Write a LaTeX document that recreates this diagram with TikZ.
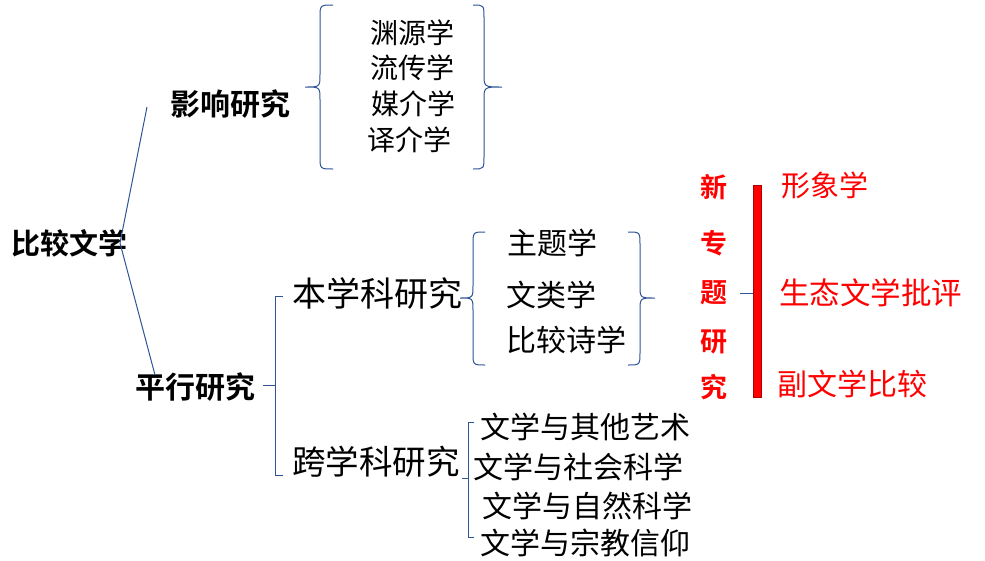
\documentclass[tikz,border=0pt]{standalone}
\usepackage{fontspec}
\setmainfont{Noto Sans CJK SC}[BoldFont={Noto Sans CJK SC Bold}]
\newcommand\fsz[1]{\fontsize{#1}{#1}\selectfont}
\definecolor{lineblue}{RGB}{47,85,151}
\definecolor{darkred}{RGB}{170,0,0}
\tikzset{
  txt/.style={anchor=west, inner sep=0pt, outer sep=0pt, text=black},
  boldtxt/.style={txt, font=\fsz{29}\bfseries},
  regtxt/.style={txt, font=\fsz{#1}},
  redtxt/.style={txt, text=red, font=\fsz{#1}},
  redv/.style={anchor=center, inner sep=0pt, text=red, font=\fsz{27}\bfseries},
  conn/.style={draw=lineblue, line width=1pt},
}
\begin{document}
\begin{tikzpicture}[x=1pt,y=-1pt]
\useasboundingbox (0,0) rectangle (985,560);
\fill[white] (0,0) rectangle (985,560);

% main nodes
\node[boldtxt] (bjwx) at (12,243) {比较文学};
\node[boldtxt, font=\fsz{30}\bfseries] (yxyj) at (170,104) {影响研究};
\node[boldtxt, font=\fsz{30}\bfseries] (pxyj) at (135,387) {平行研究};

\coordinate (root) at (120,243);
\coordinate (yxin) at (147,107);
\coordinate (pxin) at (155,375);
\draw[conn] (root) -- (yxin);
\draw[conn] (root) -- (pxin);

% influence brace and items
\draw[conn] (333,5) .. controls (320,5) .. (320,18) -- (320,74) .. controls (320,87) .. (305,87) .. controls (320,87) .. (320,100) -- (320,156) .. controls (320,169) .. (333,169);
\draw[conn] (473,5) .. controls (484,5) .. (484,18) -- (484,74) .. controls (484,87) .. (502,87) .. controls (484,87) .. (484,100) -- (484,156) .. controls (484,169) .. (473,169);
\node[regtxt=28] (yy) at (370,33) {渊源学};
\node[regtxt=28] (lc) at (370,68) {流传学};
\node[regtxt=28] (mj) at (371,104) {媒介学};
\node[regtxt=28] (yj) at (367,140) {译介学};

% parallel bracket
\coordinate (pxtick) at (263,385);
\coordinate (pxbar) at (275,385);
\draw[conn] (pxtick) -- (pxbar);
\draw[conn] (283,296) -- (275,296) -- (275,475) -- (283,475);

\node[regtxt=34] (bxk) at (292,293) {本学科研究};
\node[regtxt=33.5] (kxk) at (292,462) {跨学科研究};

% second brace
\draw[conn] (485,232) .. controls (473,232) .. (473,245) -- (473,285) .. controls (473,298) .. (460,298) .. controls (473,298) .. (473,311) -- (473,352) .. controls (473,365) .. (485,365);
\draw[conn] (628,232) .. controls (640,232) .. (640,245) -- (640,285) .. controls (640,298) .. (655,298) .. controls (640,298) .. (640,311) -- (640,352) .. controls (640,365) .. (628,365);
\node[regtxt=30] (ztx) at (507,243) {主题学};
\node[regtxt=30] (wlx) at (506,295) {文类学};
\node[regtxt=30] (bjsx) at (506,340) {比较诗学};

% new topics
\node[redv] (x1) at (714,187) {新};
\node[redv] (x2) at (714,243) {专};
\node[redv] (x3) at (714,293) {题};
\node[redv] (x4) at (714,342) {研};
\node[redv] (x5) at (714,387) {究};
\coordinate (bl1) at (740,293);
\coordinate (bl2) at (753,293);
\draw[conn] (bl1) -- (bl2);
\draw[fill=red, draw=darkred, line width=0.8pt] (753,185) rectangle (761,397);
\node[redtxt=29] (xxx) at (781,185) {形象学};
\node[redtxt=30.5] (stwx) at (779,293) {生态文学批评};
\node[redtxt=30] (fwx) at (777,384) {副文学比较};

% interdisciplinary bracket
\coordinate (kxtick) at (462,478);
\coordinate (kxbar) at (468,478);
\draw[conn] (kxtick) -- (kxbar);
\draw[conn] (474,422) -- (468,422) -- (468,537) -- (474,537);
\node[regtxt=30] (k1) at (480,427) {文学与其他艺术};
\node[regtxt=30] (k2) at (473,467) {文学与社会科学};
\node[regtxt=30] (k3) at (482,506) {文学与自然科学};
\node[regtxt=30] (k4) at (480,543) {文学与宗教信仰};
\end{tikzpicture}
\end{document}
